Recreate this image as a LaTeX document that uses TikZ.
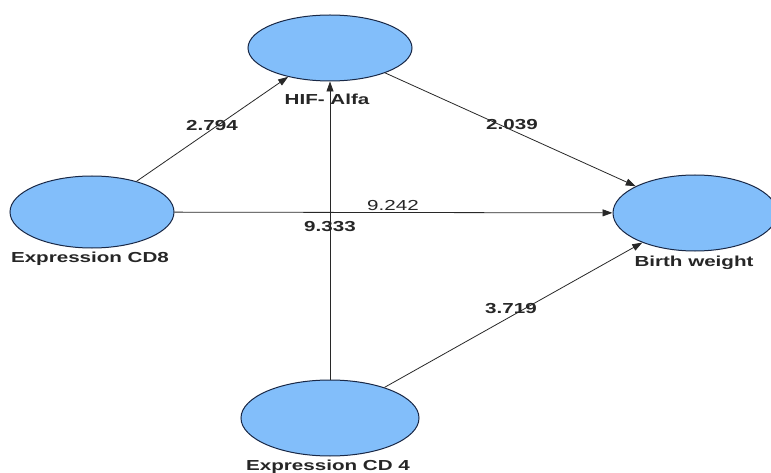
\documentclass[tikz,border=0pt]{standalone}
\usepackage{fontspec}
\setmainfont{Liberation Sans}
\usetikzlibrary{shapes.geometric,arrows.meta}
\definecolor{ellfill}{RGB}{130,190,250}
\definecolor{elldraw}{RGB}{25,40,70}
\definecolor{linegray}{RGB}{40,40,40}
\newcommand{\widetxt}[1]{\scalebox{1.42}[1]{#1}}
\tikzset{
  latent/.style={ellipse, draw=elldraw, fill=ellfill, line width=1pt, inner sep=0pt},
  lbl/.style={font=\fontsize{14.5}{16}\selectfont\bfseries, text=black!85, inner sep=0pt},
  coef/.style={font=\fontsize{14.5}{16}\selectfont\bfseries, text=black!85, inner sep=0pt},
  coefn/.style={font=\fontsize{14.5}{16}\selectfont, text=black!85, inner sep=0pt},
  path/.style={draw=linegray, line width=0.8pt, -{Triangle[length=10pt,width=7pt]}}
}
\begin{document}
\begin{tikzpicture}[x=1pt,y=-1pt]
\useasboundingbox (0,0) rectangle (771,473);
\fill[white] (0,0) rectangle (771,473);
% ellipses
\node[latent, minimum width=164pt, minimum height=66pt] (hif) at (330,48) {};
\node[latent, minimum width=164pt, minimum height=72pt] (cd8) at (92,212) {};
\node[latent, minimum width=164pt, minimum height=76pt] (bw) at (695,213) {};
\node[latent, minimum width=178pt, minimum height=76pt] (cd4) at (330,418) {};
% connectors
\draw[path] (cd8) -- (hif);
\draw[path] (hif) -- (bw);
\draw[path] (cd8) -- (bw);
\draw[path] (cd4) -- (bw);
% labels of ellipses
\node[lbl] (lhif) at (327,99) {\widetxt{HIF- Alfa}};
\node[lbl] (lcd8) at (90,259) {\widetxt{Expression CD8}};
\node[lbl] (lbw) at (694,263) {\widetxt{Birth weight}};
\node[lbl] (lcd4) at (328,467) {\widetxt{Expression CD 4}};
\draw[path] (cd4) -- (hif);
% coefficients
\node[coef] (c1) at (212,126) {\widetxt{2.794}};
\node[coef] (c2) at (512,125) {\widetxt{2.039}};
\node[coefn] (c3) at (393,206) {\widetxt{9.242}};
\node[coef] (c4) at (330,227) {\widetxt{9.333}};
\node[coef] (c5) at (511,309) {\widetxt{3.719}};
\end{tikzpicture}
\end{document}
